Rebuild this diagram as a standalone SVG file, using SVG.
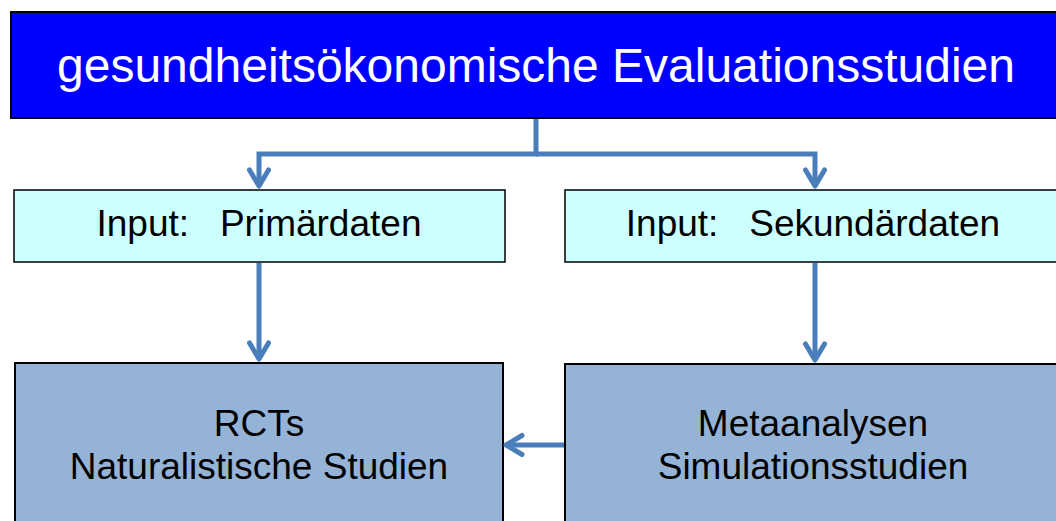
<svg xmlns="http://www.w3.org/2000/svg" width="1056" height="521" viewBox="0 0 1056 521">
  <defs>
    <marker id="open-arrow" viewBox="-22 -13 25 26" refX="0" refY="0" markerWidth="25" markerHeight="26" markerUnits="userSpaceOnUse" orient="auto">
      <path d="M-16,-9.5 L0,0 L-16,9.5" fill="none" stroke="#4A7EBB" stroke-width="5" stroke-linecap="round" stroke-linejoin="round"/>
    </marker>
    <style>
      .box { stroke: #000; stroke-width: 2; }
      .title { fill: #0000FF; }
      .input { fill: #CCFFFF; stroke-width: 1.5; }
      .study { fill: #95B3D7; }
      .label { font-family: "Liberation Sans", Arial, sans-serif; font-size: 37px; fill: #000; text-anchor: middle; }
      .conn { fill: none; stroke: #4A7EBB; stroke-width: 5; }
    </style>
  </defs>
  <rect width="1056" height="521" fill="#fff"/>

  <g id="title">
    <rect class="box title" x="11" y="12" width="1050" height="106"/>
    <text class="label" x="536" y="82" style="fill:#fff; font-size:48px">gesundheitsökonomische Evaluationsstudien</text>
  </g>

  <g id="input-primary">
    <rect class="box input" x="14" y="190" width="491" height="72"/>
    <text class="label" x="259" y="236" xml:space="preserve">Input:   Primärdaten</text>
  </g>

  <g id="input-secondary">
    <rect class="box input" x="565" y="190" width="500" height="72"/>
    <text class="label" x="813" y="236" xml:space="preserve">Input:   Sekundärdaten</text>
  </g>

  <g id="primary-studies">
    <rect class="box study" x="15" y="363" width="488" height="170"/>
    <text class="label" x="259" y="436">RCTs</text>
    <text class="label" x="259" y="479">Naturalistische Studien</text>
  </g>

  <g id="secondary-studies">
    <rect class="box study" x="565" y="364" width="500" height="170"/>
    <text class="label" x="813" y="436">Metaanalysen</text>
    <text class="label" x="813" y="479">Simulationsstudien</text>
  </g>

  <g id="connectors">
    <path class="conn" d="M536,119 V154 H259 V186" marker-end="url(#open-arrow)"/>
    <path class="conn" d="M536,154 H815 V186" marker-end="url(#open-arrow)"/>
    <path class="conn" d="M259,263 V359" marker-end="url(#open-arrow)"/>
    <path class="conn" d="M815,263 V360" marker-end="url(#open-arrow)"/>
    <path class="conn" d="M564,445 H506" marker-end="url(#open-arrow)"/>
  </g>
</svg>
